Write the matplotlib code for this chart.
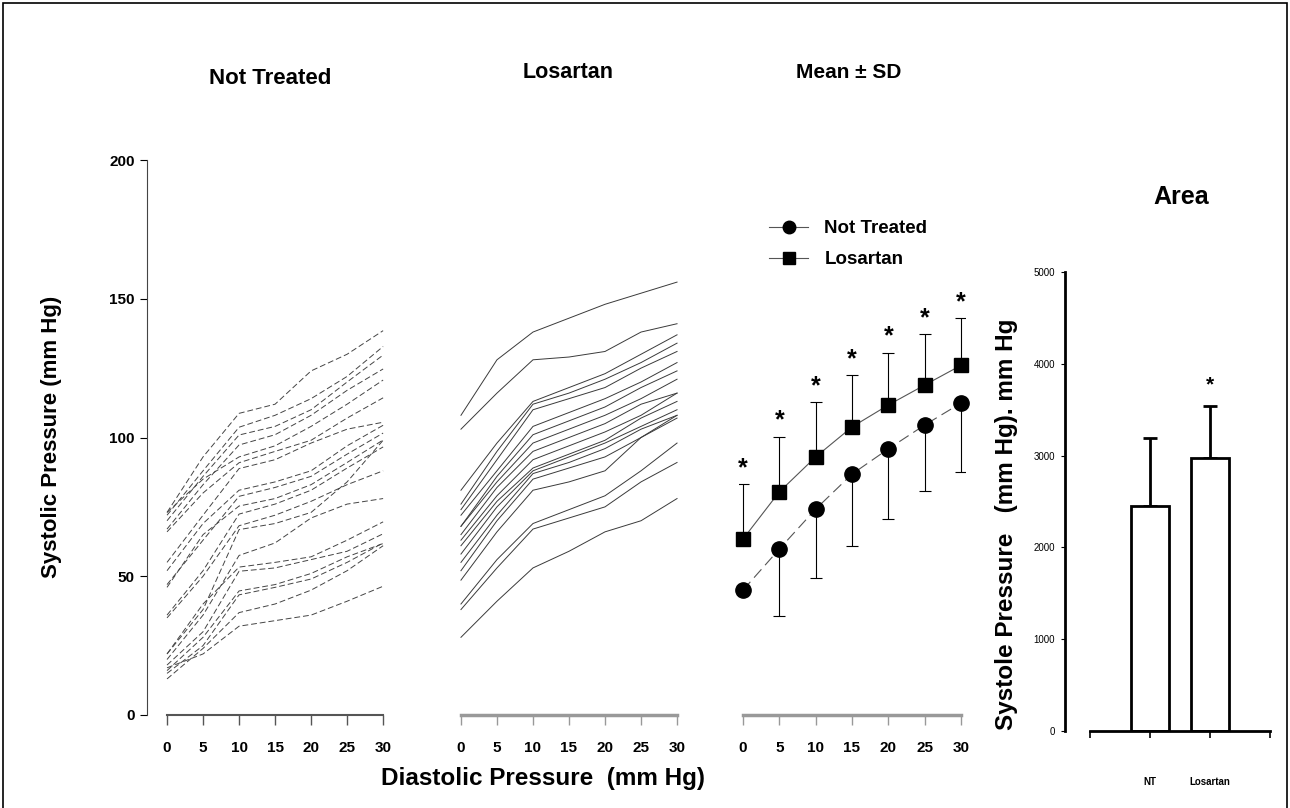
# coding=utf-8
import numpy as np
import matplotlib.pyplot as plt
from matplotlib.patches import Rectangle

plt.rcParams['font.family'] = ['Liberation Sans', 'DejaVu Sans']

# diastolic pressure steps (mm Hg)
diastolic = [0, 5, 10, 15, 20, 25, 30]

# individual curves, not treated (systolic, mm Hg)
not_treated = [
    [73, 93, 108.7, 112, 124, 130, 138.5],
    [72, 88, 103.7, 108, 114, 122, 132.8],
    [70, 86, 100.9, 104, 110, 120, 129.7],
    [67, 83, 97.3, 101, 108, 117, 124.7],
    [73, 85, 93, 97, 104, 112, 120.7],
    [66, 80, 90.9, 95, 99, 107, 114.3],
    [55, 72, 88.8, 92, 98, 103, 105.5],
    [52, 69, 81, 84, 88, 97, 104.4],
    [47, 63, 78.8, 82, 86, 94, 101.6],
    [46, 65, 75.3, 78, 83, 91, 99.1],
    [36, 52, 72.4, 76, 81, 89, 96.6],
    [35, 50, 68.2, 72, 77, 83, 88],
    [22, 38, 66.8, 69, 73, 84, 99],
    [20, 36, 57.5, 62, 71, 76, 78],
    [22, 40, 53.3, 55, 57, 63, 69.6],
    [18, 30, 51.8, 53, 56, 59, 65.3],
    [16, 28, 44.7, 47, 51, 57, 61.8],
    [15, 25, 43.3, 46, 49, 55, 62],
    [13, 24, 36.9, 40, 45, 52, 61],
    [17, 22, 32, 34, 36, 41, 46.4],
]

# individual curves, losartan
losartan = [
    [108, 128, 138, 143, 148, 152, 156],
    [103, 116, 128, 129, 131, 138, 141],
    [81, 98, 113, 118, 123, 130, 137],
    [76, 95, 112, 116, 121, 127, 134],
    [74, 92, 110, 114, 118, 125, 131],
    [72, 88, 104, 109, 114, 120, 127],
    [68, 86, 101, 106, 111, 118, 124],
    [68, 84, 98, 103, 108, 114, 121],
    [65, 82, 95, 100, 105, 112, 116],
    [63, 79, 92, 97, 102, 108, 116],
    [61, 77, 89, 94, 99, 107, 113],
    [58, 75, 88, 93, 98, 104, 110],
    [55, 72, 87, 91, 96, 103, 108],
    [52, 70, 85, 89, 93, 100, 107],
    [48.6, 66, 81, 84, 88, 100, 108],
    [40, 56, 69, 74, 79, 88, 98],
    [38, 53, 67, 71, 75, 84, 91],
    [28, 41, 53, 59, 66, 70, 78],
]

# mean +- SD
nt_mean = [45, 59.8, 74.2, 86.8, 95.9, 104.5, 112.4]
nt_sd = [0, 24, 24.8, 25.8, 25.3, 23.8, 24.8]
los_mean = [63.4, 80.4, 93, 103.8, 111.7, 118.9, 126]
los_sd = [19.8, 19.8, 19.8, 18.7, 18.8, 18.4, 17]

# area bars
area_groups = ['NT', 'Losartan']
area_mean = [2450, 2970]
area_sd = [740, 570]
area_sig = [False, True]

W, H = 1290, 808
fig = plt.figure(figsize=(12.9, 8.08), dpi=100)


def px_axes(x0, y0, x1, y1):
    return fig.add_axes([x0 / W, 1 - y1 / H, (x1 - x0) / W, (y1 - y0) / H])


def style_x(ax, color):
    ax.spines['bottom'].set_bounds(0, 30)
    ax.spines['bottom'].set_color(color)
    ax.set_xticks(diastolic)
    ax.tick_params(axis='x', direction='out', length=7, width=1, color=color,
                   pad=12, labelsize=11)
    for t in ax.get_xticklabels():
        t.set_fontweight('bold')
    for s in ['top', 'right']:
        ax.spines[s].set_visible(False)


# panel 1: not treated
ax1 = px_axes(147, 160, 386, 715)
for row in not_treated:
    ax1.plot(diastolic, row, color='#444444', lw=0.7, dashes=(6, 3))
ax1.set_xlim(-2.78, 30.4)
ax1.set_ylim(0, 200)
style_x(ax1, '#555555')
ax1.spines['bottom'].set_linewidth(1.5)
ax1.spines['left'].set_color('#444444')
ax1.set_yticks([0, 50, 100, 150, 200])
ax1.tick_params(axis='y', direction='out', length=5, pad=4, labelsize=11)
for t in ax1.get_yticklabels():
    t.set_fontweight('bold')

# panel 2: losartan
ax2 = px_axes(457, 160, 681, 715)
for row in losartan:
    ax2.plot(diastolic, row, color='#3a3a3a', lw=0.7)
ax2.set_xlim(-0.55, 30.55)
ax2.set_ylim(0, 200)
style_x(ax2, '#999999')
ax2.spines['bottom'].set_linewidth(2.5)
ax2.spines['left'].set_visible(False)
ax2.set_yticks([])

# panel 3: mean +- SD
ax3 = px_axes(739, 160, 965, 715)
ax3.errorbar(diastolic, nt_mean, yerr=[nt_sd, np.zeros(len(nt_sd))], fmt='none',
             ecolor='black', elinewidth=0.8, capsize=4, capthick=0.8)
ax3.errorbar(diastolic, los_mean, yerr=[np.zeros(len(los_sd)), los_sd], fmt='none',
             ecolor='black', elinewidth=0.8, capsize=4, capthick=0.8)
l1, = ax3.plot(diastolic, nt_mean, color='#555555', lw=0.8,
               linestyle=(0, (10, 5)),
               marker='o', ms=11, mfc='black', mec='black', clip_on=False,
               label='Not Treated')
l2, = ax3.plot(diastolic, los_mean, color='#555555', lw=0.8,
               marker='s', ms=10, mfc='black', mec='black', clip_on=False,
               label='Losartan')
for x, m, s in zip(diastolic, los_mean, los_sd):
    ax3.text(x, m + s + 1.5, '*', ha='center', va='bottom', fontsize=18,
             fontweight='bold')
ax3.set_xlim(-0.55, 30.55)
ax3.set_ylim(0, 200)
style_x(ax3, '#999999')
ax3.spines['bottom'].set_linewidth(2.5)
ax3.spines['left'].set_visible(False)
ax3.set_yticks([])
leg = ax3.legend(handles=[l1, l2], frameon=False, loc='upper left',
                 bbox_to_anchor=(769 / W, 1 - 220 / H),
                 bbox_transform=fig.transFigure, borderpad=0, borderaxespad=0,
                 handlelength=2.1, handletextpad=0.85, labelspacing=0.75,
                 prop={'weight': 'bold', 'size': 13.5})
for h in leg.legend_handles:
    h.set_linestyle('-')
    h.set_markersize(9)

# panel 4: area bars
ax4 = px_axes(1065, 272, 1276, 731)
xb = np.arange(len(area_groups))
ax4.bar(xb, area_mean, width=0.62, color='white', edgecolor='black', lw=2,
        zorder=2)
ax4.errorbar(xb, area_mean, yerr=[np.zeros(len(area_sd)), area_sd], fmt='none',
             ecolor='black', elinewidth=2, capsize=5, capthick=2, zorder=1)
for x, m, s, sig in zip(xb, area_mean, area_sd, area_sig):
    if sig:
        ax4.text(x, m + s + 130, '*', ha='center', va='bottom', fontsize=15,
                 fontweight='bold')
ax4.set_xlim(-1.417, 2.1)
ax4.set_ylim(0, 5000)
ax4.spines['bottom'].set_bounds(-1, 2)
for s in ['top', 'right']:
    ax4.spines[s].set_visible(False)
ax4.spines['left'].set_linewidth(2)
ax4.spines['bottom'].set_linewidth(2)
ax4.set_yticks([0, 1000, 2000, 3000, 4000, 5000])
ax4.tick_params(axis='y', direction='out', length=3, labelsize=7, pad=4)
ax4.set_xticks([-1, 0, 1, 2])
ax4.set_xticklabels(['', 'NT', 'Losartan', ''], fontsize=7, fontweight='bold')
ax4.tick_params(axis='x', direction='out', length=5, width=1.2, pad=28)

# titles and axis labels
fig.text(270 / W, 1 - 78 / H, 'Not Treated', ha='center', va='center',
         fontsize=16, fontweight='bold')
fig.text(568 / W, 1 - 72 / H, 'Losartan', ha='center', va='center',
         fontsize=15.5, fontweight='bold')
fig.text(849 / W, 1 - 72 / H, 'Mean \u00b1 SD', ha='center', va='center',
         fontsize=15, fontweight='bold')
fig.text(1181 / W, 1 - 197 / H, 'Area', ha='center', va='center',
         fontsize=18, fontweight='bold')
fig.text(52 / W, 1 - 437 / H, 'Systolic Pressure (mm Hg)', rotation=90,
         ha='center', va='center', fontsize=16, fontweight='bold')
fig.text(1006 / W, 1 - 524 / H, 'Systole Pressure   (mm Hg). mm Hg',
         rotation=90, ha='center', va='center', fontsize=17.5, fontweight='bold')
fig.text(543 / W, 1 - 779 / H, 'Diastolic Pressure  (mm Hg)', ha='center',
         va='center', fontsize=17.5, fontweight='bold')

# outer frame
fig.patches.append(Rectangle((3 / W, -0.05), 1284 / W, 1.05 - 3 / H,
                             transform=fig.transFigure, fill=False,
                             edgecolor='black', lw=1.2))

fig.savefig('out.png', dpi=100)
